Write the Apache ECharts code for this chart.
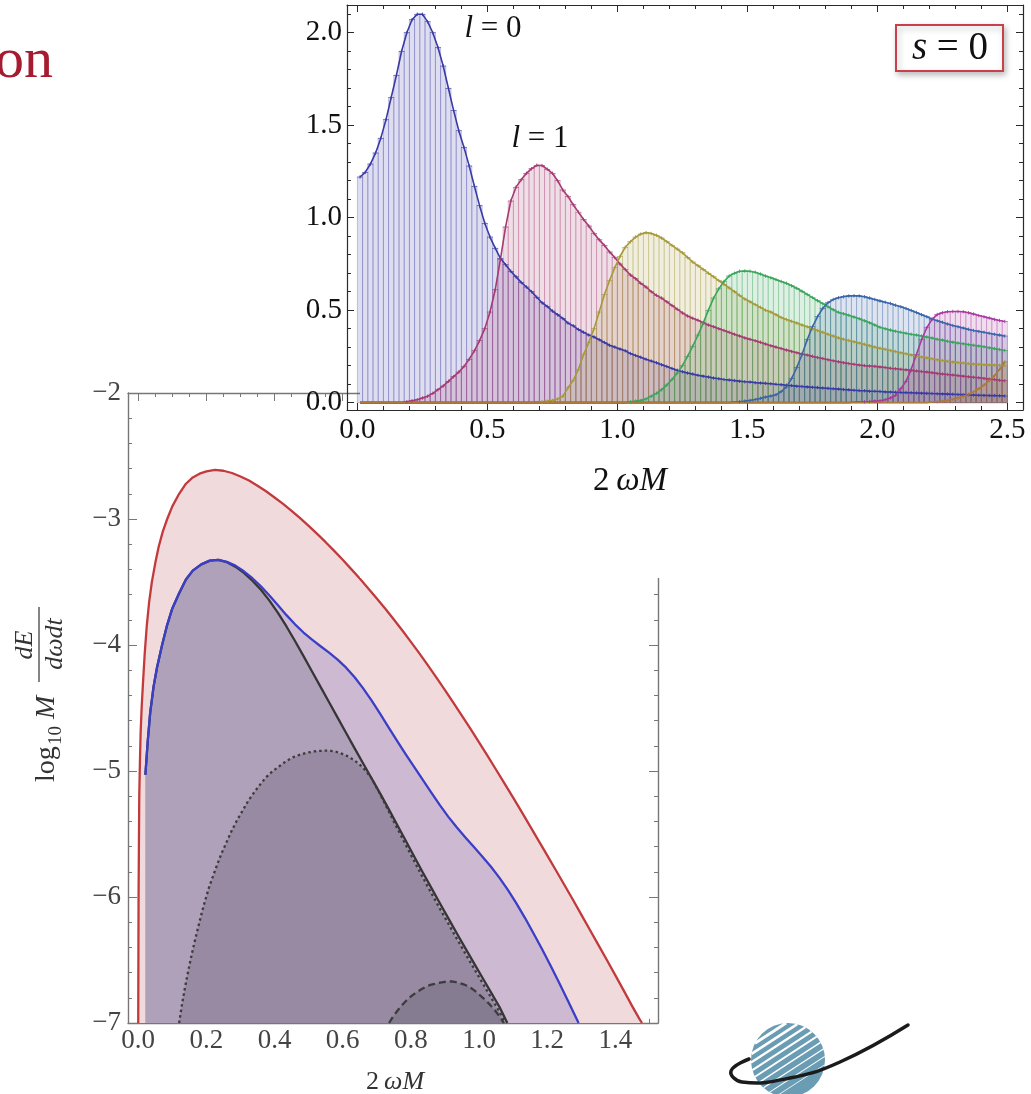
<!DOCTYPE html>
<html>
<head>
<meta charset="utf-8">
<script src="https://cdn.jsdelivr.net/npm/echarts@6/dist/echarts.min.js"></script>
<style>
  html, body { margin: 0; padding: 0; background: #fff; width: 1031px; height: 1094px; overflow: hidden; }
  .layer { position: absolute; left: 0; top: 0; width: 1031px; height: 1094px; }
  #cover { position: absolute; left: 360px; top: 0; width: 671px; height: 578px; background: #fff; }
</style>
</head>
<body>
<div id="lower" class="layer"></div>
<div id="cover"></div>
<div id="upper" class="layer"></div>
<script>
const SERIF = '"Liberation Serif", "Times New Roman", serif';

// ================= upper panel: binned s = 0 spectrum per multipole l =================
const BIN_WIDTH = 0.02;
const FIRST_BIN_CENTER = 0.01;
const BIN_TOTAL = 125;

// l = 0, bins from 2ωM = 0.01
const L0_FROM = 0.01;
const L0 = [
  1.22, 1.245, 1.29, 1.35, 1.43, 1.53, 1.65, 1.77, 1.90, 2.00,
  2.07, 2.10, 2.10, 2.06, 2.00, 1.92, 1.82, 1.70, 1.58, 1.47,
  1.38, 1.28, 1.17, 1.065, 0.97, 0.895, 0.835, 0.78, 0.745, 0.71,
  0.68, 0.65, 0.625, 0.60, 0.57, 0.54, 0.52, 0.495, 0.475, 0.455,
  0.43, 0.415, 0.395, 0.38, 0.365, 0.355, 0.34, 0.325, 0.31, 0.30,
  0.29, 0.28, 0.265, 0.255, 0.245, 0.235, 0.225, 0.215, 0.205, 0.195,
  0.185, 0.175, 0.167, 0.16, 0.154, 0.148, 0.143, 0.138, 0.133, 0.129,
  0.125, 0.122, 0.119, 0.116, 0.113, 0.111, 0.108, 0.106, 0.104, 0.102,
  0.099, 0.097, 0.094, 0.092, 0.089, 0.087, 0.085, 0.083, 0.081, 0.079,
  0.077, 0.075, 0.073, 0.071, 0.069, 0.067, 0.065, 0.064, 0.062, 0.061,
  0.060, 0.058, 0.057, 0.056, 0.055, 0.054, 0.053, 0.052, 0.051, 0.050,
  0.049, 0.048, 0.047, 0.046, 0.045, 0.044, 0.043, 0.042, 0.041, 0.040,
  0.039, 0.038, 0.038, 0.037, 0.036
];
// l = 1, bins from 0.19
const L1_FROM = 0.19;
const L1 = [
  0.005, 0.01, 0.015, 0.025, 0.035, 0.05, 0.07, 0.09, 0.115, 0.14,
  0.165, 0.195, 0.235, 0.28, 0.335, 0.40, 0.49, 0.61, 0.775, 0.95,
  1.09, 1.165, 1.205, 1.24, 1.265, 1.283, 1.282, 1.262, 1.24, 1.20,
  1.15, 1.115, 1.07, 1.03, 0.99, 0.955, 0.915, 0.88, 0.85, 0.815,
  0.785, 0.75, 0.72, 0.69, 0.67, 0.645, 0.625, 0.60, 0.58, 0.565,
  0.545, 0.525, 0.505, 0.485, 0.468, 0.456, 0.445, 0.432, 0.42, 0.41,
  0.40, 0.39, 0.38, 0.37, 0.36, 0.35, 0.343, 0.335, 0.326, 0.317,
  0.308, 0.30, 0.292, 0.284, 0.277, 0.27, 0.263, 0.257, 0.25, 0.244,
  0.238, 0.232, 0.226, 0.221, 0.216, 0.211, 0.207, 0.203, 0.20, 0.198,
  0.196, 0.193, 0.19, 0.186, 0.183, 0.18, 0.177, 0.174, 0.171, 0.168,
  0.165, 0.162, 0.158, 0.155, 0.152, 0.149, 0.146, 0.143, 0.14, 0.137,
  0.134, 0.131, 0.128, 0.125, 0.121, 0.118
];
// l = 2, bins from 0.69
const L2_FROM = 0.69;
const L2 = [
  0.003, 0.005, 0.008, 0.012, 0.02, 0.035, 0.08, 0.12, 0.18, 0.26,
  0.325, 0.40, 0.49, 0.585, 0.66, 0.73, 0.79, 0.84, 0.87, 0.895,
  0.912, 0.919, 0.915, 0.905, 0.89, 0.87, 0.85, 0.83, 0.81, 0.785,
  0.76, 0.74, 0.72, 0.70, 0.68, 0.66, 0.64, 0.62, 0.60, 0.58,
  0.56, 0.545, 0.53, 0.515, 0.50, 0.49, 0.475, 0.46, 0.45, 0.44,
  0.43, 0.42, 0.41, 0.40, 0.39, 0.38, 0.37, 0.36, 0.35, 0.343,
  0.336, 0.329, 0.322, 0.315, 0.308, 0.30, 0.294, 0.288, 0.282, 0.276,
  0.27, 0.264, 0.258, 0.252, 0.247, 0.242, 0.237, 0.232, 0.228, 0.224,
  0.22, 0.217, 0.214, 0.211, 0.209, 0.207, 0.205, 0.204, 0.203, 0.202,
  0.20
];
// l = 3, bins from 1.05
const L3_FROM = 1.05;
const L3 = [
  0.005, 0.008, 0.012, 0.02, 0.035, 0.05, 0.07, 0.095, 0.125, 0.16,
  0.20, 0.25, 0.305, 0.365, 0.43, 0.50, 0.565, 0.615, 0.655, 0.685,
  0.70, 0.71, 0.712, 0.71, 0.705, 0.695, 0.685, 0.675, 0.665, 0.655,
  0.645, 0.632, 0.618, 0.602, 0.585, 0.568, 0.551, 0.535, 0.518, 0.502,
  0.488, 0.48, 0.472, 0.463, 0.454, 0.443, 0.432, 0.42, 0.408, 0.399,
  0.392, 0.386, 0.38, 0.375, 0.37, 0.366, 0.36, 0.355, 0.349, 0.343,
  0.338, 0.332, 0.327, 0.322, 0.318, 0.314, 0.31, 0.306, 0.302, 0.297,
  0.292, 0.287, 0.282
];
// l = 4, bins from 1.45
const L4_FROM = 1.45;
const L4 = [
  0.003, 0.005, 0.008, 0.012, 0.017, 0.023, 0.03, 0.036, 0.042, 0.06,
  0.085, 0.13, 0.19, 0.26, 0.34, 0.41, 0.465, 0.51, 0.54, 0.557,
  0.567, 0.573, 0.577, 0.578, 0.577, 0.572, 0.565, 0.558, 0.55, 0.543,
  0.536, 0.527, 0.518, 0.509, 0.498, 0.487, 0.475, 0.464, 0.452, 0.443,
  0.434, 0.425, 0.417, 0.41, 0.403, 0.396, 0.39, 0.385, 0.38, 0.375,
  0.37, 0.365, 0.36
];
// l = 5, bins from 1.91
const L5_FROM = 1.91;
const L5 = [
  0.003, 0.004, 0.005, 0.006, 0.008, 0.01, 0.015, 0.025, 0.04, 0.075,
  0.115, 0.18, 0.26, 0.34, 0.405, 0.45, 0.476, 0.486, 0.491, 0.493,
  0.493, 0.491, 0.486, 0.479, 0.471, 0.464, 0.457, 0.45, 0.444, 0.439
];
// l = 6, bins from 2.21
const L6_FROM = 2.21;
const L6 = [
  0.003, 0.005, 0.008, 0.012, 0.018, 0.025, 0.034, 0.045, 0.058, 0.075,
  0.095, 0.12, 0.145, 0.18, 0.22
];

const MULTIPOLE_FROM = [L0_FROM, L1_FROM, L2_FROM, L3_FROM, L4_FROM, L5_FROM, L6_FROM];
const MULTIPOLE_VALUES = [L0, L1, L2, L3, L4, L5, L6];
const MULTIPOLE_COLORS = ['#3a3aa6', '#a63a73', '#a69a3a', '#3aa65c', '#3a66a8', '#a83aa0', '#ad7a3c'];

const TOP_X_TICKS = [0, 0.5, 1, 1.5, 2, 2.5];
const TOP_X_MINOR = [0.1, 0.2, 0.3, 0.4, 0.6, 0.7, 0.8, 0.9, 1.1, 1.2, 1.3, 1.4, 1.6, 1.7, 1.8, 1.9, 2.1, 2.2, 2.3, 2.4];
const TOP_Y_TICKS = [0, 0.5, 1, 1.5, 2];
const TOP_Y_MINOR = [0.1, 0.2, 0.3, 0.4, 0.6, 0.7, 0.8, 0.9, 1.1, 1.2, 1.3, 1.4, 1.6, 1.7, 1.8, 1.9, 2.1];

// ================= lower panel: log10 M dE/(dω dt) =================
const RED_CURVE = [
  [0.0, -7.0], [0.0005, -6.5], [0.001, -6.0], [0.002, -5.6], [0.003, -5.2], [0.005, -4.93],
  [0.007, -4.7], [0.01, -4.5], [0.014, -4.3], [0.019, -4.07], [0.025, -3.85], [0.032, -3.66],
  [0.04, -3.5], [0.05, -3.35], [0.06, -3.22], [0.072, -3.1], [0.085, -3.0], [0.1, -2.9],
  [0.12, -2.8], [0.14, -2.72], [0.16, -2.67], [0.18, -2.64], [0.2, -2.622], [0.225, -2.61],
  [0.25, -2.617], [0.275, -2.635], [0.3, -2.663], [0.325, -2.695], [0.35, -2.736], [0.375, -2.78],
  [0.4, -2.829], [0.425, -2.88], [0.45, -2.935], [0.475, -2.993], [0.5, -3.054], [0.525, -3.118],
  [0.55, -3.184], [0.575, -3.253], [0.6, -3.324], [0.625, -3.398], [0.65, -3.473], [0.675, -3.551],
  [0.7, -3.631], [0.725, -3.713], [0.75, -3.798], [0.775, -3.885], [0.8, -3.975], [0.825, -4.067],
  [0.85, -4.162], [0.875, -4.259], [0.9, -4.358], [0.925, -4.459], [0.95, -4.562], [0.975, -4.666],
  [1.0, -4.772], [1.025, -4.88], [1.05, -4.99], [1.075, -5.10], [1.1, -5.212], [1.125, -5.325],
  [1.15, -5.439], [1.175, -5.554], [1.2, -5.67], [1.225, -5.786], [1.25, -5.903], [1.275, -6.02],
  [1.3, -6.14], [1.325, -6.26], [1.35, -6.38], [1.375, -6.50], [1.4, -6.622], [1.425, -6.745],
  [1.45, -6.87], [1.47, -6.965], [1.478, -7.0]
];
const BLUE_CURVE = [
  [0.021, -5.03], [0.028, -4.76], [0.035, -4.54], [0.045, -4.33], [0.055, -4.18], [0.07, -4.0],
  [0.085, -3.84], [0.1, -3.71], [0.12, -3.59], [0.14, -3.48], [0.16, -3.41], [0.185, -3.36],
  [0.21, -3.33], [0.235, -3.325], [0.26, -3.34], [0.285, -3.37], [0.31, -3.415], [0.335, -3.47],
  [0.36, -3.535], [0.385, -3.607], [0.41, -3.685], [0.435, -3.763], [0.46, -3.836], [0.485, -3.901],
  [0.51, -3.958], [0.535, -4.01], [0.56, -4.061], [0.585, -4.116], [0.61, -4.18], [0.635, -4.256],
  [0.66, -4.344], [0.685, -4.442], [0.71, -4.547], [0.735, -4.655], [0.76, -4.763], [0.785, -4.868],
  [0.81, -4.97], [0.835, -5.071], [0.86, -5.172], [0.885, -5.271], [0.91, -5.364], [0.935, -5.449],
  [0.96, -5.528], [0.985, -5.604], [1.01, -5.68], [1.035, -5.76], [1.06, -5.848], [1.085, -5.946],
  [1.11, -6.053], [1.135, -6.167], [1.16, -6.29], [1.185, -6.415], [1.21, -6.545], [1.235, -6.68],
  [1.26, -6.82], [1.285, -6.96], [1.292, -7.0]
];
const BLACK_CURVE = [
  [0.021, -5.03], [0.028, -4.76], [0.035, -4.54], [0.045, -4.33], [0.055, -4.18], [0.07, -4.0],
  [0.085, -3.84], [0.1, -3.71], [0.12, -3.59], [0.14, -3.48], [0.16, -3.41], [0.185, -3.36],
  [0.21, -3.33], [0.235, -3.325], [0.26, -3.343], [0.285, -3.378], [0.31, -3.428], [0.335, -3.49],
  [0.36, -3.562], [0.385, -3.648], [0.41, -3.745], [0.435, -3.853], [0.46, -3.968], [0.485, -4.088],
  [0.51, -4.21], [0.535, -4.332], [0.56, -4.454], [0.585, -4.576], [0.61, -4.698], [0.635, -4.82],
  [0.66, -4.94], [0.685, -5.06], [0.71, -5.18], [0.735, -5.303], [0.76, -5.428], [0.785, -5.554],
  [0.81, -5.68], [0.835, -5.805], [0.86, -5.928], [0.885, -6.05], [0.91, -6.17], [0.935, -6.29],
  [0.96, -6.408], [0.985, -6.525], [1.01, -6.641], [1.035, -6.757], [1.06, -6.873], [1.083, -7.0]
];
const DOTTED_CURVE = [
  [0.12, -7.0], [0.128, -6.86], [0.135, -6.75], [0.145, -6.61], [0.155, -6.48], [0.165, -6.36],
  [0.175, -6.25], [0.185, -6.14], [0.195, -6.04], [0.207, -5.93], [0.22, -5.83], [0.232, -5.74],
  [0.245, -5.65], [0.26, -5.56], [0.275, -5.47], [0.29, -5.39], [0.305, -5.32], [0.322, -5.24],
  [0.34, -5.17], [0.357, -5.11], [0.375, -5.05], [0.395, -5.0], [0.415, -4.96], [0.435, -4.92],
  [0.455, -4.89], [0.475, -4.87], [0.495, -4.855], [0.515, -4.845], [0.535, -4.84], [0.55, -4.838],
  [0.565, -4.84], [0.58, -4.847], [0.595, -4.86], [0.61, -4.877], [0.625, -4.90], [0.64, -4.928],
  [0.655, -4.962], [0.67, -5.005], [0.685, -5.06], [0.71, -5.185], [0.735, -5.32], [0.76, -5.455],
  [0.785, -5.587], [0.81, -5.717], [0.835, -5.845], [0.86, -5.97], [0.885, -6.092], [0.91, -6.212],
  [0.935, -6.332], [0.96, -6.45], [0.985, -6.567], [1.01, -6.682], [1.035, -6.797], [1.06, -6.912],
  [1.077, -7.0]
];
const DASHED_CURVE = [
  [0.736, -7.0], [0.743, -6.97], [0.75, -6.94], [0.76, -6.905], [0.77, -6.87], [0.782, -6.835],
  [0.795, -6.80], [0.807, -6.775], [0.82, -6.75], [0.832, -6.73], [0.845, -6.71], [0.857, -6.698],
  [0.87, -6.69], [0.882, -6.682], [0.895, -6.675], [0.907, -6.671], [0.92, -6.67], [0.932, -6.675],
  [0.945, -6.685], [0.957, -6.696], [0.97, -6.71], [0.982, -6.733], [0.995, -6.76], [1.007, -6.79],
  [1.02, -6.82], [1.03, -6.85], [1.04, -6.88], [1.048, -6.905], [1.055, -6.93], [1.064, -6.965],
  [1.073, -7.0]
];

const LOW_X_TICKS = [0, 0.2, 0.4, 0.6, 0.8, 1.0, 1.2, 1.4];
const LOW_X_MINOR = [0.05, 0.1, 0.15, 0.25, 0.3, 0.35, 0.45, 0.5, 0.55, 0.65, 0.7, 0.75, 0.85, 0.9, 0.95,
  1.05, 1.1, 1.15, 1.25, 1.3, 1.35, 1.45, 1.5];
const LOW_Y_TICKS = [-7, -6, -5, -4, -3, -2];
const LOW_Y_MINOR = [-6.8, -6.6, -6.4, -6.2, -5.8, -5.6, -5.4, -5.2, -4.8, -4.6, -4.4, -4.2,
  -3.8, -3.6, -3.4, -3.2, -2.8, -2.6, -2.4, -2.2];

// ---------------- helpers ----------------
function rgba(hex, a) {
  const n = parseInt(hex.slice(1), 16);
  return 'rgba(' + (n >> 16) + ',' + ((n >> 8) & 255) + ',' + (n & 255) + ',' + a + ')';
}
function binned(from, values) {
  const out = [];
  for (let k = 0; k < BIN_TOTAL; k++) {
    const x = Math.round((FIRST_BIN_CENTER + k * BIN_WIDTH) * 1000) / 1000;
    const j = Math.round((x - from) / BIN_WIDTH);
    out.push([x, j >= 0 && j < values.length ? values[j] : 0]);
  }
  return out;
}
function frameAxis(o) {
  // one side of a boxed frame, ticks pointing inward
  const a = {
    type: 'value', min: o.min, max: o.max, position: o.position,
    axisLine: { show: o.line, onZero: false, lineStyle: { color: o.color, width: o.lw } },
    axisTick: { show: true, inside: true, length: o.len, customValues: o.ticks, lineStyle: { color: o.color, width: 1 } },
    axisLabel: { show: false },
    splitLine: { show: false }, minorTick: { show: false }
  };
  if (o.labels) {
    a.axisLabel = {
      show: true, customValues: o.ticks, formatter: o.fmt, color: o.labelColor,
      fontFamily: SERIF, fontSize: o.fontSize, margin: o.margin
    };
  }
  return a;
}
// error-bar cap: wide horizontal stroke with a short vertical stem
const CAP = 'path://M0,4.3h10v1.4h-10z M4.3,0h1.4v10h-1.4z';

// ================= build upper chart =================
const upperSeries = [];
const multipolePoints = MULTIPOLE_VALUES.map((v, i) => binned(MULTIPOLE_FROM[i], v));
multipolePoints.forEach((pts, i) => {
  const c = MULTIPOLE_COLORS[i];
  upperSeries.push({
    type: 'custom', name: 'bins l=' + i, data: pts, z: 2, clip: true, silent: true,
    renderItem(params, api) {
      const x = api.value(0), y = api.value(1);
      if (!(y > 0)) return null;
      const a = api.coord([x - BIN_WIDTH / 2, y]);
      const b = api.coord([x + BIN_WIDTH / 2, 0]);
      return {
        type: 'rect',
        shape: { x: a[0], y: a[1], width: b[0] - a[0], height: b[1] - a[1] },
        style: { fill: rgba(c, 0.17), stroke: rgba(c, 0.28), lineWidth: 1 }
      };
    }
  });
});
multipolePoints.forEach((pts, i) => {
  const c = MULTIPOLE_COLORS[i];
  upperSeries.push({
    type: 'line', name: 'l=' + i, data: pts, z: 3, silent: true, smooth: false,
    lineStyle: { color: c, width: 1.6, join: 'round' }, itemStyle: { color: c },
    symbol: (v) => (v[1] > 0.004 ? CAP : 'none'), symbolSize: [6, 3.5], showAllSymbol: true
  });
});

const TOP_AX = '#2a2a2a';
const TX = { min: -0.04, max: 2.56 };
const TY = { min: -0.04, max: 2.15 };
const upperOption = {
  animation: false,
  grid: { left: 347, top: 5, width: 676, height: 405 },
  xAxis: [
    frameAxis({ ...TX, position: 'bottom', line: true, color: TOP_AX, lw: 1.2, len: 7, ticks: TOP_X_TICKS,
      labels: true, fmt: v => v.toFixed(1), labelColor: '#111', fontSize: 29, margin: 6 }),
    frameAxis({ ...TX, position: 'bottom', line: false, color: TOP_AX, lw: 1, len: 4, ticks: TOP_X_MINOR }),
    frameAxis({ ...TX, position: 'top', line: true, color: TOP_AX, lw: 1.2, len: 7, ticks: TOP_X_TICKS }),
    frameAxis({ ...TX, position: 'top', line: false, color: TOP_AX, lw: 1, len: 4, ticks: TOP_X_MINOR })
  ],
  yAxis: [
    frameAxis({ ...TY, position: 'left', line: true, color: TOP_AX, lw: 1.2, len: 7, ticks: TOP_Y_TICKS,
      labels: true, fmt: v => v.toFixed(1), labelColor: '#111', fontSize: 29, margin: 5 }),
    frameAxis({ ...TY, position: 'left', line: false, color: TOP_AX, lw: 1, len: 4, ticks: TOP_Y_MINOR }),
    frameAxis({ ...TY, position: 'right', line: true, color: TOP_AX, lw: 1.2, len: 7, ticks: TOP_Y_TICKS }),
    frameAxis({ ...TY, position: 'right', line: false, color: TOP_AX, lw: 1, len: 4, ticks: TOP_Y_MINOR })
  ],
  series: upperSeries,
  graphic: [
    { type: 'text', x: 493, y: 29, z: 50, style: {
      text: '{i|l} = 0', fontFamily: SERIF, fontSize: 31, fill: '#111', align: 'center', verticalAlign: 'middle',
      rich: { i: { fontFamily: SERIF, fontSize: 31, fontStyle: 'italic', fill: '#111' } } } },
    { type: 'text', x: 540, y: 139, z: 50, style: {
      text: '{i|l} = 1', fontFamily: SERIF, fontSize: 31, fill: '#111', align: 'center', verticalAlign: 'middle',
      rich: { i: { fontFamily: SERIF, fontSize: 31, fontStyle: 'italic', fill: '#111' } } } },
    { type: 'rect', z: 50, shape: { x: 896, y: 25, width: 107, height: 46 },
      style: { fill: '#fff', stroke: '#c8404b', lineWidth: 2, shadowBlur: 6, shadowColor: 'rgba(0,0,0,0.25)', shadowOffsetX: 2, shadowOffsetY: 3 } },
    { type: 'text', x: 950, y: 49, z: 51, style: {
      text: '{i|s} = 0', fontFamily: SERIF, fontSize: 39, fill: '#111', align: 'center', verticalAlign: 'middle',
      rich: { i: { fontFamily: SERIF, fontSize: 39, fontStyle: 'italic', fill: '#111' } } } },
    { type: 'text', x: 630, y: 481, z: 50, style: {
      text: '2\u2009{i|\u03C9M}', fontFamily: SERIF, fontSize: 33, fill: '#111', align: 'center', verticalAlign: 'middle',
      rich: { i: { fontFamily: SERIF, fontSize: 33, fontStyle: 'italic', fill: '#111' } } } }
  ]
};

// ================= build lower chart =================
const LOW_AX = '#777';
const LOW_CURVES = [
  { data: RED_CURVE, line: '#c23a3c', fill: '#f1dadc', type: 'solid', lz: 8 },
  { data: BLUE_CURVE, line: '#3b3fc6', fill: '#cdb9d2', type: 'solid', lz: 7 },
  { data: BLACK_CURVE, line: '#363636', fill: '#b0a1ba', type: 'solid', lz: 5 },
  { data: DOTTED_CURVE, line: '#3c3c3c', fill: '#988aa2', type: [2.5, 3], lz: 6 },
  { data: DASHED_CURVE, line: '#3c3c3c', fill: '#867c92', type: [7, 4], lz: 6 }
];
const lowerSeries = [];
LOW_CURVES.forEach((c, i) => {
  lowerSeries.push({
    type: 'line', data: c.data, z: 1 + i * 0.1, silent: true, smooth: false,
    showSymbol: false, lineStyle: { width: 0 },
    areaStyle: { color: c.fill, opacity: 1, origin: 'start' }
  });
});
LOW_CURVES.forEach((c) => {
  lowerSeries.push({
    type: 'line', data: c.data, z: c.lz, silent: true, smooth: false,
    showSymbol: false, lineStyle: { color: c.line, width: 2.3, type: c.type, join: 'round' }
  });
});

const minusFmt = v => (v < 0 ? '\u2212' : '') + Math.abs(v);

// decorative planet logo: striped disc with an orbit swoosh
const LOGO_CX = 788, LOGO_CY = 1060, LOGO_R = 37;
const logoChildren = [{ type: 'circle', shape: { cx: LOGO_CX, cy: LOGO_CY, r: LOGO_R }, style: { fill: '#6a9cb4' } }];
(function () {
  const ang = 33 * Math.PI / 180;
  const t = [Math.cos(ang), -Math.sin(ang)], n = [Math.sin(ang), Math.cos(ang)];
  for (let d = -32; d <= 30; d += 7) {
    const h = Math.sqrt(LOGO_R * LOGO_R - d * d);
    const cx = LOGO_CX + d * n[0], cy = LOGO_CY + d * n[1];
    logoChildren.push({
      type: 'line',
      shape: { x1: cx - h * t[0], y1: cy - h * t[1], x2: cx + h * t[0], y2: cy + h * t[1] },
      style: { stroke: '#fff', lineWidth: Math.max(0.8, 2.8 - (d + 32) * 0.035) }
    });
  }
  logoChildren.push({
    type: 'polyline', shape: { points: [[749, 1059], [731, 1071], [742, 1082], [790, 1078], [840, 1062], [908, 1025]], smooth: 0.45 },
    style: { stroke: '#1b1b1b', lineWidth: 3.5, lineCap: 'round', fill: null }
  });
})();

const LX = { min: -0.03, max: 1.525 };
const LY = { min: -7, max: -2 };
const lowerOption = {
  animation: false,
  grid: { left: 128, top: 393, width: 530, height: 630 },
  xAxis: [
    frameAxis({ ...LX, position: 'bottom', line: true, color: LOW_AX, lw: 1.4, len: 8, ticks: LOW_X_TICKS,
      labels: true, fmt: v => v.toFixed(1), labelColor: '#444', fontSize: 27, margin: 4 }),
    frameAxis({ ...LX, position: 'bottom', line: false, color: LOW_AX, lw: 1, len: 4, ticks: LOW_X_MINOR }),
    frameAxis({ ...LX, position: 'top', line: true, color: LOW_AX, lw: 1.4, len: 8, ticks: LOW_X_TICKS }),
    frameAxis({ ...LX, position: 'top', line: false, color: LOW_AX, lw: 1, len: 4, ticks: LOW_X_MINOR })
  ],
  yAxis: [
    frameAxis({ ...LY, position: 'left', line: true, color: LOW_AX, lw: 1.4, len: 9, ticks: LOW_Y_TICKS,
      labels: true, fmt: minusFmt, labelColor: '#444', fontSize: 27, margin: 7 }),
    frameAxis({ ...LY, position: 'left', line: false, color: LOW_AX, lw: 1, len: 4, ticks: LOW_Y_MINOR }),
    frameAxis({ ...LY, position: 'right', line: true, color: LOW_AX, lw: 1.4, len: 9, ticks: LOW_Y_TICKS }),
    frameAxis({ ...LY, position: 'right', line: false, color: LOW_AX, lw: 1, len: 4, ticks: LOW_Y_MINOR })
  ],
  series: lowerSeries,
  graphic: [
    { type: 'text', x: 53, y: 91, style: { text: 'on', fontFamily: SERIF, fontSize: 58, fill: '#a51c30', align: 'right', verticalAlign: 'bottom' } },
    { type: 'text', x: 395, y: 1082, style: {
      text: '2\u2009{i|\u03C9M}', fontFamily: SERIF, fontSize: 26, fill: '#333', align: 'center', verticalAlign: 'middle',
      rich: { i: { fontFamily: SERIF, fontSize: 26, fontStyle: 'italic', fill: '#333' } } } },
    { type: 'group', x: 57, y: 782, rotation: Math.PI / 2, children: [
      { type: 'text', x: 0, y: -10, style: { text: 'log', fontFamily: SERIF, fontSize: 28, fill: '#333', verticalAlign: 'middle' } },
      { type: 'text', x: 37, y: -1, style: { text: '10', fontFamily: SERIF, fontSize: 19, fill: '#333', verticalAlign: 'middle' } },
      { type: 'text', x: 63, y: -10, style: { text: 'M', fontFamily: SERIF, fontSize: 28, fontStyle: 'italic', fill: '#333', verticalAlign: 'middle' } },
      { type: 'text', x: 137, y: -32, style: { text: 'dE', fontFamily: SERIF, fontSize: 26, fontStyle: 'italic', fill: '#333', align: 'center', verticalAlign: 'middle' } },
      { type: 'line', shape: { x1: 100, y1: -18, x2: 175, y2: -18 }, style: { stroke: '#333', lineWidth: 1.2 } },
      { type: 'text', x: 138, y: -2, style: { text: 'd\u03C9dt', fontFamily: SERIF, fontSize: 26, fontStyle: 'italic', fill: '#333', align: 'center', verticalAlign: 'middle' } }
    ] },
    { type: 'group', children: logoChildren }
  ]
};

const lowerChart = echarts.init(document.getElementById('lower'), null, { renderer: 'canvas' });
lowerChart.setOption(lowerOption);
const upperChart = echarts.init(document.getElementById('upper'), null, { renderer: 'canvas' });
upperChart.setOption(upperOption);
</script>
</body>
</html>
